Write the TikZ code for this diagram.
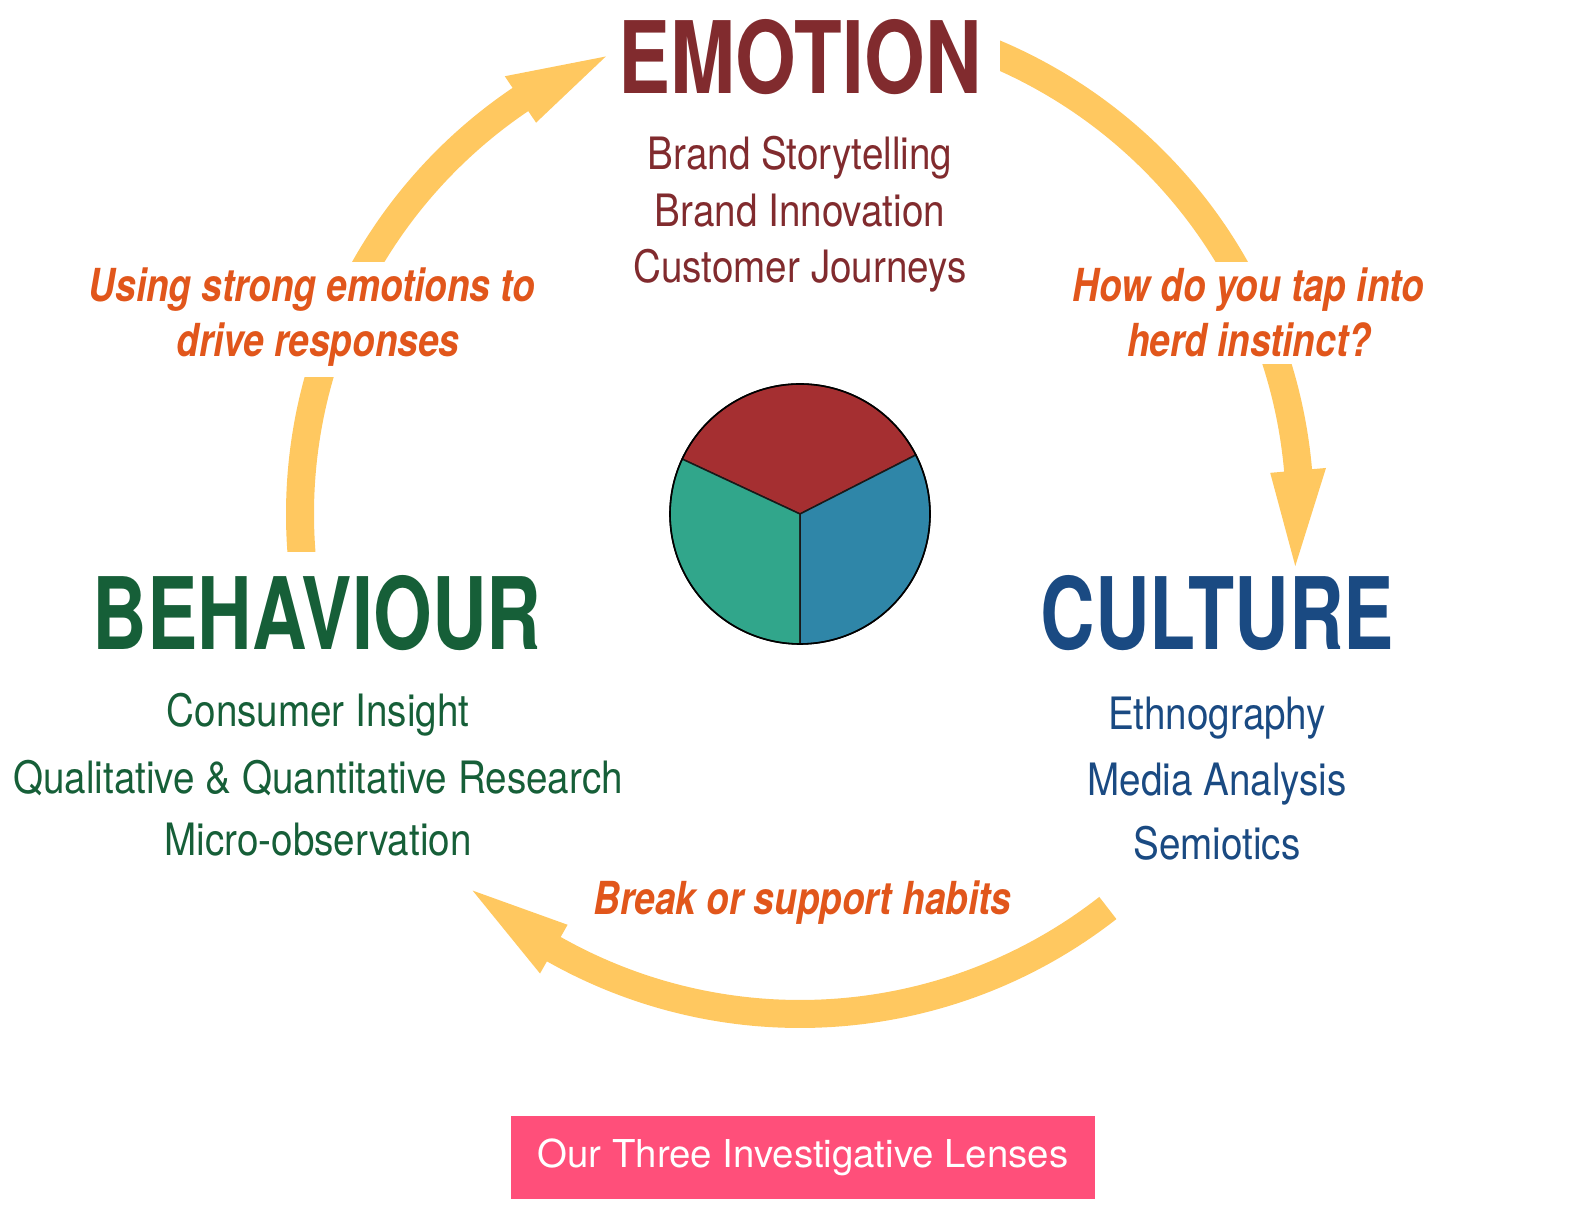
\documentclass[tikz,border=0pt]{standalone}
\usepackage{fontspec}
\setmainfont{TeX Gyre Heros}
\newfontfamily\headfont[FakeStretch=0.755]{TeX Gyre Heros}
\newfontfamily\topheadfont[FakeStretch=0.78]{TeX Gyre Heros}
\newfontfamily\itemfont[FakeStretch=0.866]{TeX Gyre Heros}
\newfontfamily\notefont[FakeStretch=0.813]{TeX Gyre Heros}
\newfontfamily\capfont{TeX Gyre Heros}

\definecolor{emored}{HTML}{812B2E}
\definecolor{behgreen}{HTML}{165F38}
\definecolor{culblue}{HTML}{1A4A82}
\definecolor{noteorange}{HTML}{E1561B}
\definecolor{ringyellow}{HTML}{FFC860}
\definecolor{piered}{HTML}{A52F31}
\definecolor{pieteal}{HTML}{31A68B}
\definecolor{pieblue}{HTML}{2F86A8}
\definecolor{tagpink}{HTML}{FF4F7A}

\begin{document}
\begin{tikzpicture}[x=1pt,y=1pt,
  headtxt/.style={font=\headfont\bfseries\fontsize{100}{110}\selectfont, inner sep=0pt, anchor=base},
  itemtxt/.style={font=\itemfont\fontsize{44.6}{50}\selectfont, inner sep=0pt, anchor=base},
  notetxt/.style={font=\notefont\bfseries\itshape\fontsize{45.5}{50}\selectfont, text=noteorange, inner sep=0pt, anchor=base},
  shaft/.style={draw=ringyellow, line width=28pt, line cap=butt},
  head/.style={fill=ringyellow},
  slice/.style={draw=black!90, line width=1.5pt, line join=round}]

\useasboundingbox (0,0) rectangle (1592,1214);

% ring of three arrows around the centre
\begin{scope}[shift={(800,700)}]
  % left arrow: behaviour -> emotion
  \begin{scope}
    \clip (-800,-38) rectangle (0,136);
    \draw[shaft] (186:500) arc[start angle=186, end angle=140, radius=500];
  \end{scope}
  \begin{scope}
    \clip (-800,252) rectangle (0,514);
    \draw[shaft] (160:500) arc[start angle=160, end angle=123.5, radius=500];
  \end{scope}
  \fill[head] (124:486) -- (124:472) -- (113:497) -- (124:528) -- (124:514) -- cycle;

  % right arrow: emotion -> culture
  \begin{scope}
    \clip (200,252) rectangle (792,514);
    \draw[shaft] (72:500) arc[start angle=72, end angle=25, radius=500];
  \end{scope}
  \begin{scope}
    \clip (0,-200) rectangle (792,149);
    \draw[shaft] (22:500) arc[start angle=22, end angle=4.5, radius=500];
  \end{scope}
  \fill[head] (5:486) -- (5:472) -- (-6:498) -- (5:528) -- (5:514) -- cycle;

  % bottom arrow: culture -> behaviour
  \draw[shaft] (-52:500) arc[start angle=-52, end angle=-120.5, radius=500];
  \fill[head] (-119.5:486) -- (-119.5:472) -- (-131:499) -- (-119.5:528) -- (-119.5:514) -- cycle;

  % three-part disc
  \filldraw[slice, fill=piered] (0,0) -- (27:130) arc[start angle=27, end angle=155, radius=130] -- cycle;
  \filldraw[slice, fill=pieteal] (0,0) -- (155:130) arc[start angle=155, end angle=270, radius=130] -- cycle;
  \filldraw[slice, fill=pieblue] (0,0) -- (270:130) arc[start angle=270, end angle=387, radius=130] -- cycle;
  \draw[black, line width=1.6pt] (0,0) circle[radius=130];
\end{scope}

% emotion
\node[headtxt, font=\topheadfont\bfseries\fontsize{100}{110}\selectfont, text=emored] (emo) at (800,1120.7) {EMOTION};
\node[itemtxt, text=emored] (emo1) at (800,1044) {Brand Storytelling};
\node[itemtxt, text=emored] (emo2) at (800,987.3) {Brand Innovation};
\node[itemtxt, text=emored] (emo3) at (800,931) {Customer Journeys};

% behaviour
\node[headtxt, text=behgreen] (beh) at (317,564) {BEHAVIOUR};
\node[itemtxt, text=behgreen] (beh1) at (318,487) {Consumer Insight};
\node[itemtxt, text=behgreen] (beh2) at (318,420) {Qualitative \& Quantitative Research};
\node[itemtxt, text=behgreen] (beh3) at (318,358) {Micro-observation};

% culture
\node[headtxt, text=culblue] (cul) at (1217.5,564) {CULTURE};
\node[itemtxt, text=culblue] (cul1) at (1217,484) {Ethnography};
\node[itemtxt, text=culblue] (cul2) at (1217,418) {Media Analysis};
\node[itemtxt, text=culblue] (cul3) at (1217,354) {Semiotics};

% arrow notes
\node[notetxt] (nl1) at (312,912.3) {Using strong emotions to};
\node[notetxt] (nl2) at (318,857.3) {drive responses};
\node[notetxt] (nr1) at (1248.5,912.3) {How do you tap into};
\node[notetxt] (nr2) at (1249,857.3) {herd instinct?};
\node[notetxt] (nb) at (802.5,299) {Break or support habits};

% caption tag
\node[fill=tagpink, text=white, minimum width=584pt, minimum height=83pt, inner sep=0pt,
      font=\capfont\fontsize{38.4}{44}\selectfont] (tag) at (803,56.5) {Our Three Investigative Lenses};
\end{tikzpicture}
\end{document}
